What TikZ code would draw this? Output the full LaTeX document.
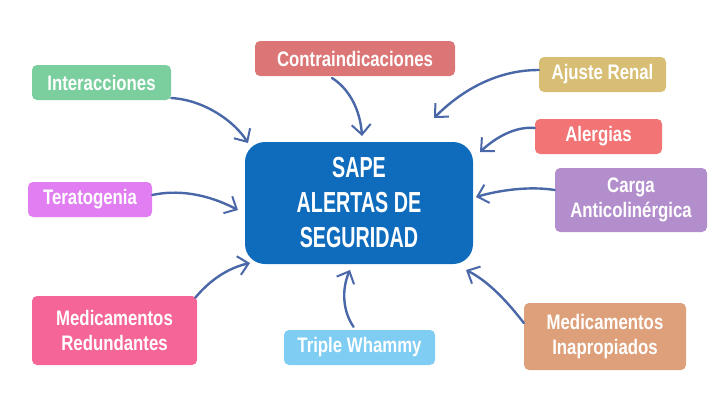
\documentclass[tikz,border=0pt]{standalone}
\usepackage{fontspec}
\setmainfont[FakeStretch=0.8]{Liberation Sans}
\newfontfamily\hubfont[FakeStretch=0.68]{Liberation Sans}
\usetikzlibrary{arrows.meta}
\definecolor{cInter}{HTML}{7BCF9E}
\definecolor{cContra}{HTML}{DC7676}
\definecolor{cAjuste}{HTML}{D8BE74}
\definecolor{cAlerg}{HTML}{F27474}
\definecolor{cCenter}{HTML}{0F6CBD}
\definecolor{cTerat}{HTML}{E07EF2}
\definecolor{cCarga}{HTML}{B38ECC}
\definecolor{cRedun}{HTML}{F66597}
\definecolor{cTriple}{HTML}{80CDF4}
\definecolor{cInap}{HTML}{DEA07A}
\definecolor{cArrow}{HTML}{4A67A8}
\tikzset{
  tag/.style={rounded corners=5pt, text=white, font=\bfseries\fontsize{21}{25}\selectfont, align=center, inner sep=0pt},
  hub/.style={rounded corners=20pt, fill=cCenter, text=white, font=\hubfont\bfseries\fontsize{29}{35}\selectfont, align=center, inner sep=0pt},
  link/.style={draw=cArrow, line width=2.4pt, line cap=round, -{Straight Barb[length=10pt,width=19pt,line width=2pt]}}
}
\begin{document}
\begin{tikzpicture}[x=1pt,y=-1pt]
\useasboundingbox (0,0) rectangle (720,405);
% center
\node[hub, minimum width=228pt, minimum height=122pt] (c) at (359,203) {SAPE\\ALERTAS DE\\SEGURIDAD};
% tags
\node[tag, fill=cInter, minimum width=139pt, minimum height=35pt] (inter) at (101.5,82.5) {Interacciones};
\node[tag, fill=cContra, minimum width=200pt, minimum height=35pt] (contra) at (355,58.5) {Contraindicaciones};
\node[tag, fill=cAjuste, minimum width=127pt, minimum height=35pt] (ajuste) at (602.5,74.5) {Ajuste Renal};
\node[tag, fill=cAlerg, minimum width=127pt, minimum height=35pt] (alerg) at (598.5,136.5) {Alergias};
\node[tag, fill=cTerat, minimum width=124pt, minimum height=35pt] (terat) at (90,199.5) {Teratogenia};
\node[tag, fill=cCarga, minimum width=152pt, minimum height=64pt] (carga) at (631,200) {Carga\\Anticolinérgica};
\node[tag, fill=cRedun, minimum width=165pt, minimum height=69pt] (redun) at (114.5,330.5) {Medicamentos\\Redundantes};
\node[tag, fill=cTriple, minimum width=151pt, minimum height=35pt] (triple) at (359.5,347.5) {Triple Whammy};
\node[tag, fill=cInap, minimum width=162pt, minimum height=67pt] (inap) at (605,336.5) {Medicamentos\\Inapropiados};
% arrows
\coordinate (a1) at (248,143);
\coordinate (a2) at (362,136);
\coordinate (a3) at (434,118);
\coordinate (a4) at (480,152);
\coordinate (a5) at (238,210);
\coordinate (a6) at (476,197);
\coordinate (a7) at (250,263);
\coordinate (a8) at (350,270);
\coordinate (a9) at (466,270);
\draw[link] (inter.east |- 0,98) .. controls (205,100) and (235,122) .. (a1);
\draw[link] (332,78) .. controls (348,88) and (360,108) .. (a2);
\draw[link] (ajuste.west |- 0,70) .. controls (495,70) and (460,92) .. (a3);
\draw[link] (alerg.west |- 0,128) .. controls (515,126) and (495,138) .. (a4);
\draw[link] (terat.east |- 0,195) .. controls (185,188) and (215,198) .. (a5);
\draw[link] (carga.west |- 0,190) .. controls (530,186) and (500,190) .. (a6);
\draw[link] (redun.north east) ++(-2,2) .. controls (210,280) and (228,268) .. (a7);
\draw[link] (triple.north) ++(-6,-3) .. controls (342,310) and (342,288) .. (a8);
\draw[link] (inap.west |- 0,323) .. controls (510,305) and (490,282) .. (a9);
\end{tikzpicture}
\end{document}
